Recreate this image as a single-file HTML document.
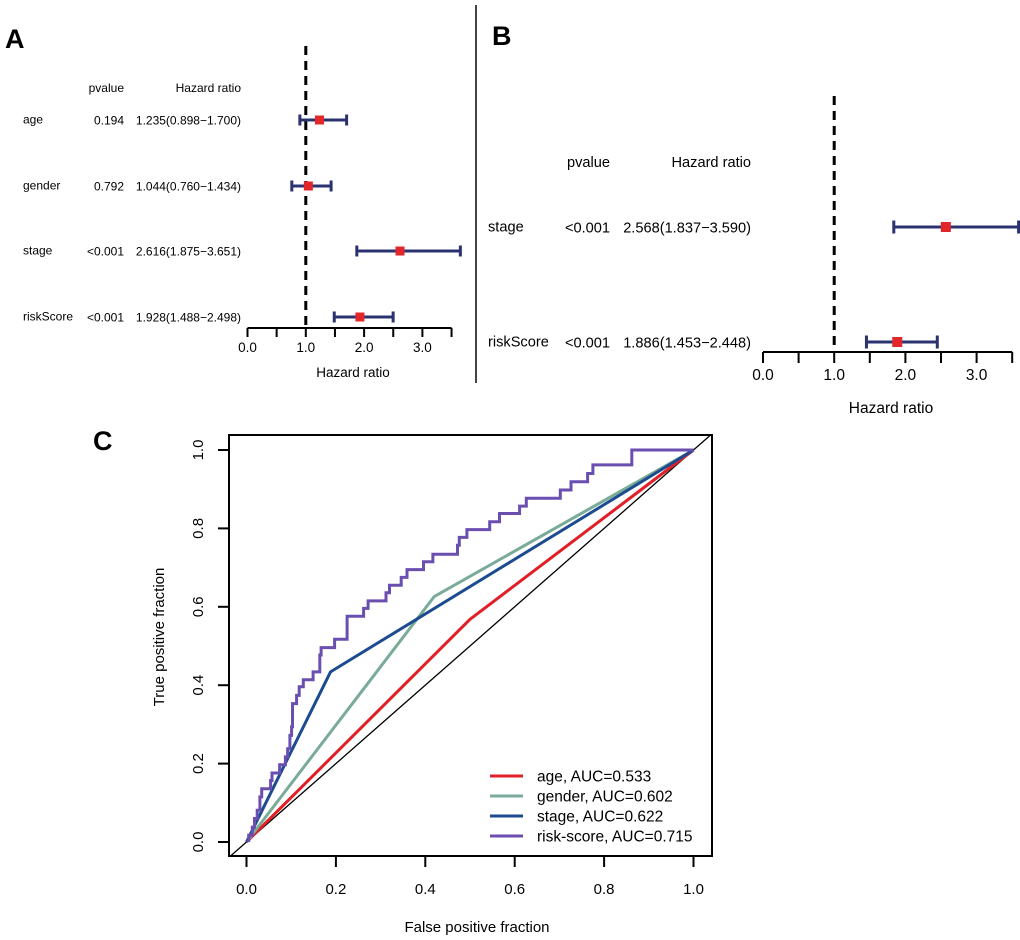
<!DOCTYPE html>
<html><head><meta charset="utf-8">
<style>
html,body{margin:0;padding:0;background:#fff}
svg{display:block;font-family:"Liberation Sans",Arial,sans-serif}
</style></head>
<body>
<svg id="fig" width="1020" height="940" viewBox="0 0 1020 940" xmlns="http://www.w3.org/2000/svg">
<line x1="476" y1="5" x2="476" y2="383" stroke="#444" stroke-width="2"/>
<text x="5" y="48" font-size="27" font-weight="bold">A</text>
<text x="492" y="45" font-size="27" font-weight="bold">B</text>
<text x="93" y="450" font-size="27" font-weight="bold">C</text>
<g id="panelA"></g>
<g id="panelB"></g>
<g id="roc"></g>
</svg>
<script>
// Panel A data
const aNames = ["age","gender","stage","riskScore"];
const aP = ["0.194","0.792","<0.001","<0.001"];
const aHR = [1.235,1.044,2.616,1.928];
const aLo = [0.898,0.760,1.875,1.488];
const aHi = [1.700,1.434,3.651,2.498];
// Panel B data
const bNames = ["stage","riskScore"];
const bP = ["<0.001","<0.001"];
const bHR = [2.568,1.886];
const bLo = [1.837,1.453];
const bHi = [3.590,2.448];
const hrTicks = ["0.0","1.0","2.0","3.0"];
// ROC data
const ageF=[0,0.5,1], ageT=[0,0.568,1];
const genderF=[0,0.42,1], genderT=[0,0.626,1];
const stageF=[0,0.188,1], stageT=[0,0.434,1];
const riskF=[0.005,0.013,0.018,0.024,0.03,0.034,0.054,0.057,0.074,0.087,0.092,0.097,0.101,0.103,0.112,0.118,0.127,0.149,0.164,0.167,0.197,0.225,0.262,0.272,0.312,0.32,0.346,0.359,0.396,0.417,0.472,0.476,0.493,0.544,0.566,0.611,0.626,0.702,0.726,0.763,0.775,0.862,1.0];
const riskT=[0.017,0.038,0.06,0.081,0.115,0.136,0.157,0.176,0.197,0.217,0.238,0.272,0.294,0.353,0.374,0.396,0.414,0.434,0.477,0.496,0.517,0.576,0.596,0.615,0.636,0.655,0.675,0.695,0.715,0.734,0.757,0.777,0.797,0.817,0.838,0.857,0.877,0.898,0.919,0.94,0.962,1.0,1.0];
const legendLabels=["age, AUC=0.533","gender, AUC=0.602","stage, AUC=0.622","risk-score, AUC=0.715"];
const rocTicks=["0.0","0.2","0.4","0.6","0.8","1.0"];

const NS="http://www.w3.org/2000/svg";
function mk(parent,tag,attrs,text){const e=document.createElementNS(NS,tag);for(const k in attrs)e.setAttribute(k,attrs[k]);if(text!==undefined)e.textContent=text;parent.appendChild(e);return e;}

function forest(g,cfg,names,ps,hr,lo,hi){
  const X=v=>cfg.x0+v*cfg.unit;
  const d=mk(g,'line',{x1:X(1),x2:X(1),y1:cfg.dashTop,y2:cfg.axisY,stroke:'#000','stroke-width':3,'stroke-dasharray':'9,6'});
  
  
  let t=mk(g,'text',{x:cfg.pRight,y:cfg.headY,'text-anchor':'end','font-size':cfg.fs},'pvalue');
  
  
  t=mk(g,'text',{x:cfg.hrRight,y:cfg.headY,'text-anchor':'end','font-size':cfg.fs},'Hazard ratio');
  
  
  names.forEach((n,i)=>{
    const y=cfg.rows[i];
    let e=mk(g,'text',{x:cfg.nameX,y:y+cfg.fs*0.3,'font-size':cfg.fs},n);
    
    
    e=mk(g,'text',{x:cfg.pRight,y:y+cfg.fs*0.38,'text-anchor':'end','font-size':cfg.fs},ps[i]);
    
    
    e=mk(g,'text',{x:cfg.hrRight,y:y+cfg.fs*0.38,'text-anchor':'end','font-size':cfg.fs},hr[i].toFixed(3)+'('+lo[i].toFixed(3)+'\u2212'+hi[i].toFixed(3)+')');
    
    
    const ci=mk(g,'g',{stroke:'#2b3270','stroke-width':3,fill:'none'});
    
    
    mk(ci,'line',{x1:X(lo[i]),x2:X(hi[i]),y1:y,y2:y});
    mk(ci,'line',{x1:X(lo[i]),x2:X(lo[i]),y1:y-cfg.cap,y2:y+cfg.cap});
    mk(ci,'line',{x1:X(hi[i]),x2:X(hi[i]),y1:y-cfg.cap,y2:y+cfg.cap});
    const s=cfg.sq;
    const r=mk(g,'rect',{x:X(hr[i])-s/2,y:y-s/2,width:s,height:s,fill:'#e3262a'});
    
    
  });
  const ax=mk(g,'g',{stroke:'#000','stroke-width':2});
  
  
  mk(ax,'line',{x1:X(0),x2:X(3.5),y1:cfg.axisY,y2:cfg.axisY});
  for(let v=0;v<=3.5001;v+=0.5) mk(ax,'line',{x1:X(v),x2:X(v),y1:cfg.axisY,y2:cfg.axisY+cfg.tick});
  hrTicks.forEach(l=>{
    const e=mk(g,'text',{x:X(parseFloat(l)),y:cfg.lblY,'text-anchor':'middle','font-size':cfg.tfs},l);
    
    
  });
  const e=mk(g,'text',{x:cfg.titleX,y:cfg.titleY,'text-anchor':'middle','font-size':cfg.tfs},'Hazard ratio');
  
  
}
forest(document.getElementById('panelA'),{x0:247.5,unit:58.3,axisY:328,tick:9,lblY:352,tfs:13.5,titleX:353,titleY:377,dashTop:46,fs:12,nameX:23,pRight:124,hrRight:241,headY:92,rows:[120,186,251,317],cap:5.5,sq:9},aNames,aP,aHR,aLo,aHi);
forest(document.getElementById('panelB'),{x0:763,unit:71.2,axisY:352,tick:11,lblY:380,tfs:15.5,titleX:891,titleY:413,dashTop:96,fs:14.6,nameX:488,pRight:610,hrRight:751,headY:167,rows:[227,342],cap:6.5,sq:10},bNames,bP,bHR,bLo,bHi);

// ROC
(function(){
  const g=document.getElementById('roc');
  const x0=246.5,x1=693.5,y0=842,y1=450;
  const X=v=>x0+v*(x1-x0), Y=v=>y0-v*(y0-y1);
  const clip=mk(g,'clipPath',{id:'rc'});mk(clip,'rect',{x:229,y:435,width:483,height:421});
  const dg=mk(g,'line',{x1:229,y1:Y((229-x0)/(x1-x0)),x2:712,y2:Y((712-x0)/(x1-x0)),stroke:'#000','stroke-width':1.3,'clip-path':'url(#rc)'});
  
  
  function poly(F,T,col,name){
    const p=F.map((f,i)=>X(f).toFixed(1)+','+Y(T[i]).toFixed(1)).join(' ');
    const e=mk(g,'polyline',{points:p,fill:'none',stroke:col,'stroke-width':3,'stroke-linejoin':'round'});
    
    
  }
  poly(ageF,ageT,'#e01f26','age-roc-curve');
  poly(genderF,genderT,'#7aab98','gender-roc-curve');
  poly(stageF,stageT,'#1d4b8f','stage-roc-curve');
  let pts=[[X(riskF[0]),Y(0)]];
  for(let i=0;i<riskF.length;i++){
    pts.push([X(riskF[i]),Y(riskT[i])]);
    if(i+1<riskF.length) pts.push([X(riskF[i+1]),Y(riskT[i])]);
  }
  const rs=mk(g,'polyline',{points:pts.map(p=>p[0].toFixed(1)+','+p[1].toFixed(1)).join(' '),fill:'none',stroke:'#6a4fb0','stroke-width':3});
  
  
  const box=mk(g,'rect',{x:229,y:435,width:483,height:421,fill:'none',stroke:'#000','stroke-width':2});
  
  
  rocTicks.forEach(l=>{
    const v=parseFloat(l);
    mk(g,'line',{x1:X(v),x2:X(v),y1:856,y2:867,stroke:'#000','stroke-width':2});
    let e=mk(g,'text',{x:X(v),y:894,'text-anchor':'middle','font-size':15},l);
    
    
    mk(g,'line',{x1:218,x2:229,y1:Y(v),y2:Y(v),stroke:'#000','stroke-width':2});
    e=mk(g,'text',{x:0,y:0,'text-anchor':'middle','font-size':15,transform:'translate(203,'+Y(v)+') rotate(-90)'},l);
    
    
  });
  let e=mk(g,'text',{x:477,y:932,'text-anchor':'middle','font-size':15},'False positive fraction');
  
  
  e=mk(g,'text',{x:0,y:0,'text-anchor':'middle','font-size':15,transform:'translate(164,637) rotate(-90)'},'True positive fraction');
  
  
  const cols=['#e01f26','#7aab98','#1d4b8f','#6a4fb0'];
  legendLabels.forEach((l,i)=>{
    const y=776+i*20;
    const lg=mk(g,'g',{});
    
    
    mk(lg,'line',{x1:490,x2:523,y1:y,y2:y,stroke:cols[i],'stroke-width':3});
    mk(lg,'text',{x:537,y:y+5.5,'font-size':15.5},l);
  });
})();
</script>
</body></html>
